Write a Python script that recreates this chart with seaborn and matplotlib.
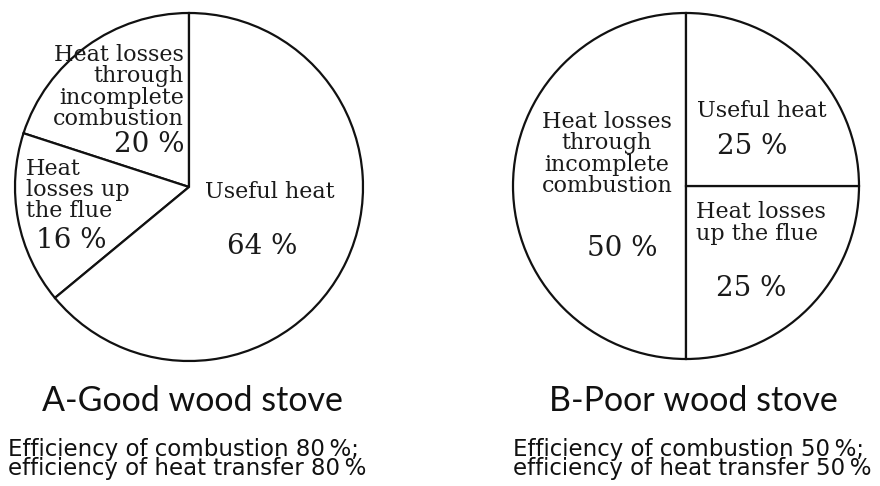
import matplotlib
matplotlib.use("Agg")
import matplotlib.pyplot as plt
import seaborn as sns

sns.set_theme(style="white")
plt.rcParams["font.family"] = ["DejaVu Serif", "Liberation Serif"]

# Stove A: shares of heat, counter-clockwise from 12 o'clock
good_labels = ["Heat losses\nthrough\nincomplete\ncombustion", "Heat\nlosses up\nthe flue", "Useful heat"]
good_values = [20, 16, 64]

# Stove B
poor_labels = ["Heat losses\nthrough\nincomplete\ncombustion", "Heat losses\nup the flue", "Useful heat"]
poor_values = [50, 25, 25]

titles = ["A-Good wood stove", "B-Poor wood stove"]
efficiency = [(80, 80), (50, 50)]

W, H = 880, 486
fig = plt.figure(figsize=(W / 100, H / 100), dpi=100)
ax = fig.add_axes([0, 0, 1, 1])


def py(y):
    # top-down pixel row to data y
    return H - y


wedge_style = dict(facecolor="white", edgecolor="#111111", linewidth=1.6)
palette = sns.color_palette(["white"] * 3)

ax.pie(good_values, startangle=90, counterclock=True, center=(189, py(187)), radius=174,
       colors=palette, wedgeprops=wedge_style, frame=False)
ax.pie(poor_values, startangle=90, counterclock=True, center=(686, py(186)), radius=173,
       colors=palette, wedgeprops=wedge_style, frame=False)
ax.set_xlim(0, W)
ax.set_ylim(0, H)
ax.set_aspect("equal")
ax.axis("off")

lab = dict(fontsize=16, color="#1a1a1a", linespacing=0.97)
pct = dict(fontsize=20, color="#1a1a1a")


def p(v):
    return f"{v} %"


# Stove A labels
ax.text(184, py(87), good_labels[0], ha="right", va="center", **lab)
ax.text(184, py(144), p(good_values[0]), ha="right", va="center", **pct)
ax.text(26, py(190), good_labels[1], ha="left", va="center", multialignment="left", **lab)
ax.text(71, py(241), p(good_values[1]), ha="center", va="center", **pct)
ax.text(270, py(192), good_labels[2], ha="center", va="center", **lab)
ax.text(262, py(247), p(good_values[2]), ha="center", va="center", **pct)

# Stove B labels
ax.text(607, py(154), poor_labels[0], ha="center", va="center", **lab)
ax.text(622, py(249), p(poor_values[0]), ha="center", va="center", **pct)
ax.text(696, py(223), poor_labels[1], ha="left", va="center", multialignment="left", **lab)
ax.text(751, py(288), p(poor_values[1]), ha="center", va="center", **pct)
ax.text(762, py(111), poor_labels[2], ha="center", va="center", **lab)
ax.text(752, py(147), p(poor_values[2]), ha="center", va="center", **pct)

# Titles and efficiency notes
title_font = ["Lato", "DejaVu Sans"]
note_font = ["DejaVu Sans"]
for cx, left, title, (ec, eh) in zip([192, 693], [8, 513], titles, efficiency):
    ax.text(cx, py(401), title, ha="center", va="center", fontsize=24.5,
            family=title_font, color="#111111")
    ax.text(left, py(459), f"Efficiency of combustion {ec}\u2009%;\nefficiency of heat transfer {eh}\u2009%",
            ha="left", va="center", fontsize=16.5, family=note_font, color="#111111",
            linespacing=0.76, multialignment="left")

fig.savefig("out.png", dpi=100, facecolor="white")
